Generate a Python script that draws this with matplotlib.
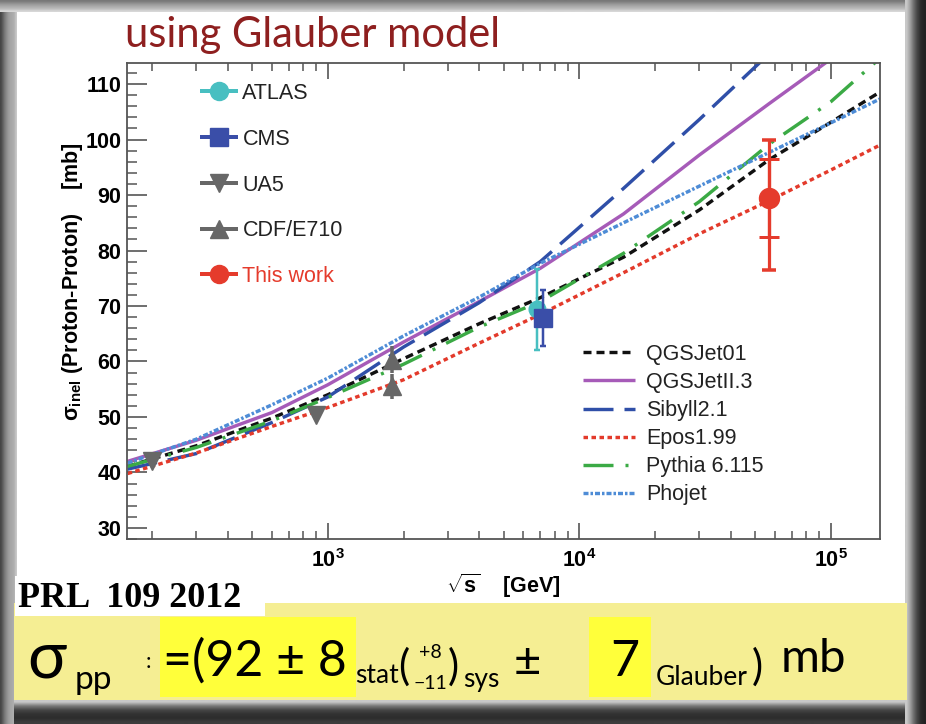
import numpy as np
import matplotlib
matplotlib.use("Agg")
import matplotlib.pyplot as plt
from matplotlib.lines import Line2D
from matplotlib.patches import Rectangle
from matplotlib.ticker import MultipleLocator, LogLocator, NullFormatter

# ---- model predictions: inelastic p-p cross section [mb] vs sqrt(s) [GeV]
energy_gev = [160, 300, 600, 1000, 2000, 4000, 7000, 15000, 30000, 57000, 100000, 160000]
qgsjet01 = [41.1, 44.8, 49.8, 54.0, 60.5, 66.8, 71.5, 78.8, 87.3, 96.4, 103.1, 108.8]
qgsjetII3 = [42.0, 45.8, 50.8, 55.8, 63.5, 70.8, 76.8, 86.6, 97.2, 106.5, 114.5, 121.0]
sibyll21 = [40.6, 43.4, 49.0, 53.6, 62.6, 70.6, 78.0, 91.2, 103.6, 115.5, 126.0, 135.0]
epos199 = [39.8, 43.5, 48.3, 51.7, 56.7, 63.3, 68.5, 76.0, 83.0, 89.0, 94.5, 99.2]
pythia6115 = [41.1, 44.5, 49.3, 53.5, 59.5, 66.2, 70.8, 79.5, 88.8, 99.2, 106.8, 115.0]
phojet = [41.7, 46.0, 52.2, 57.0, 64.6, 71.6, 77.7, 85.0, 91.6, 97.7, 103.0, 107.5]

model_names = ["QGSJet01", "QGSJetII.3", "Sibyll2.1", "Epos1.99", "Pythia 6.115", "Phojet"]

# ---- measurements
atlas_e, atlas_sigma, atlas_err = [6800], [69.4], [7.3]
cms_e, cms_sigma, cms_err = [7200], [67.8], [5.0]
ua5_e, ua5_sigma, ua5_err = [200, 900], [42.0, 50.3], [0.8, 1.0]
cdf_e, cdf_sigma, cdf_err = [1800, 1800], [60.3, 55.5], [2.4, 2.2]
auger_e, auger_sigma = [57000], [89.5]
auger_stat = [7.0]
auger_tot_up, auger_tot_down = [10.5], [13.0]

data_names = ["ATLAS", "CMS", "UA5", "CDF/E710", "This work"]

W, H = 926, 724
plt.rcParams["font.family"] = ["Liberation Sans", "DejaVu Sans"]
plt.rcParams["mathtext.fontset"] = "custom"
plt.rcParams["mathtext.rm"] = "Liberation Sans"
plt.rcParams["mathtext.it"] = "Liberation Sans:italic"
plt.rcParams["mathtext.bf"] = "Liberation Sans:bold"
plt.rcParams["lines.scale_dashes"] = False

fig = plt.figure(figsize=(W / 100, H / 100), dpi=100)
fig.patch.set_facecolor("white")

# ---- slide decoration (pixel coordinates, origin top-left)
bg = fig.add_axes([0, 0, 1, 1])
bg.set_xlim(0, W)
bg.set_ylim(H, 0)
bg.axis("off")
bg.set_zorder(0)


def band(values, x0, x1, y0, y1, horizontal=True):
    arr = np.array(values, dtype=float) / 255.0
    img = arr[None, :] if horizontal else arr[:, None]
    rgb = np.dstack([img, img, img])
    bg.imshow(rgb, extent=(x0, x1, y1, y0), aspect="auto", interpolation="bilinear", zorder=1)


band([70, 95, 120, 140, 155, 165, 170, 175, 200], 0, 17, 0, H)
band([120, 140, 160, 175, 190, 215], 0, W, 0, 12, horizontal=False)
band([200, 160, 110, 70, 45, 35], 905, W, 0, H)

# paper strip with the result
bg.add_patch(Rectangle((14, 603), 893, 97, facecolor="#F5EE93", edgecolor="none", zorder=2))
band([200, 120, 70, 50, 45, 60], 14, 905, 700, H, horizontal=False)
bg.add_patch(Rectangle((160, 617), 196, 80, facecolor="#FFFF3A", edgecolor="none", zorder=3))
bg.add_patch(Rectangle((589, 617), 62, 80, facecolor="#FFFF3A", edgecolor="none", zorder=3))
bg.add_patch(Rectangle((15, 576), 250, 40, facecolor="white", edgecolor="none", zorder=3))


def ftext(x, y, s, **kw):
    fig.text(x / W, 1 - y / H, s, **kw)


title_font = ["Lato", "DejaVu Sans"]
ftext(125, 47, "using Glauber model", fontsize=30, color="#8E1F1F",
      family=title_font, va="baseline")
ftext(18, 607, "PRL  109 2012", fontsize=26, fontweight="bold",
      family=["Liberation Serif"], va="baseline", color="black", zorder=5)

ff = ["Lato", "DejaVu Sans"]
ftext(27, 678, "σ", fontsize=47, family=ff, va="baseline", zorder=5)
ftext(75, 689, "pp", fontsize=24, family=ff, va="baseline", zorder=5)
ftext(146, 668, ":", fontsize=16, family=ff, va="baseline", zorder=5)
ftext(163, 676, "=(92 ± 8", fontsize=36, family=ff, va="baseline", zorder=5)
ftext(355, 683, "stat", fontsize=19, family=ff, va="baseline", zorder=5)
ftext(398, 680, "(", fontsize=30, family=ff, va="baseline", zorder=5)
ftext(430, 658, "+8", fontsize=14, family=ff, va="baseline", ha="center", zorder=5)
ftext(430, 689, "−11", fontsize=14, family=ff, va="baseline", ha="center", zorder=5)
ftext(448, 680, ")", fontsize=30, family=ff, va="baseline", zorder=5)
ftext(463, 687, "sys", fontsize=19, family=ff, va="baseline", zorder=5)
ftext(514, 676, "±", fontsize=34, family=ff, va="baseline", zorder=5)
ftext(610, 676, "7", fontsize=36, family=ff, va="baseline", zorder=5)
ftext(656, 685, "Glauber", fontsize=19, family=ff, va="baseline", zorder=5)
ftext(752, 680, ")", fontsize=30, family=ff, va="baseline", zorder=5)
ftext(781, 672, "mb", fontsize=34, family=ff, va="baseline", zorder=5)

# ---- main plot
ax = fig.add_axes([127 / W, 1 - 539 / H, (880 - 127) / W, (539 - 63) / H])
ax.set_zorder(2)
ax.set_facecolor("white")
ax.set_xscale("log")
ax.set_xlim(159, 1.57e5)
ax.set_ylim(28, 113.8)

px = 0.72  # points per pixel
model_styles = [
    dict(color="#111111", dashes=(8 * px, 5 * px)),
    dict(color="#A65BB8", linestyle="-"),
    dict(color="#2F4FA8", dashes=(30 * px, 11 * px)),
    dict(color="#E33A2B", dashes=(4.5 * px, 3.5 * px)),
    dict(color="#3BAA45", dashes=(30 * px, 12 * px, 3 * px, 12 * px)),
    dict(color="#4E8CD6", dashes=(5 * px, 2 * px, 2.5 * px, 2 * px)),
]
model_values = [qgsjet01, qgsjetII3, sibyll21, epos199, pythia6115, phojet]
model_handles = []
for name, vals, st in zip(model_names, model_values, model_styles):
    ln, = ax.plot(energy_gev, vals, lw=3.4 * px, label=name,
                  solid_capstyle="butt", dash_capstyle="butt", **st)
    model_handles.append(ln)

gray = "#676767"
ax.errorbar(ua5_e, ua5_sigma, yerr=ua5_err, fmt="v", color=gray, ms=13,
            elinewidth=3 * px, capsize=0, zorder=5)
ax.errorbar(cdf_e, cdf_sigma, yerr=cdf_err, fmt="^", color=gray, ms=13,
            elinewidth=3.5 * px, capsize=0, zorder=5)
ax.errorbar(atlas_e, atlas_sigma, yerr=atlas_err, fmt="o", color="#48BFC1", ms=12,
            elinewidth=2.5 * px, capsize=2.5, capthick=2.5 * px, zorder=5)
ax.errorbar(cms_e, cms_sigma, yerr=cms_err, fmt="s", color="#3A4EA8", ms=13,
            elinewidth=2.5 * px, capsize=2.5, capthick=2.5 * px, zorder=6)
red = "#E53B2C"
ax.errorbar(auger_e, auger_sigma, yerr=[auger_tot_down, auger_tot_up], fmt="none",
            ecolor=red, elinewidth=3.2 * px, capsize=7 * px, capthick=3.5 * px, zorder=6)
ax.errorbar(auger_e, auger_sigma, yerr=auger_stat, fmt="o", color=red, ms=20 * px,
            elinewidth=3.2 * px, capsize=10 * px, capthick=3 * px, zorder=7)

# axes styling
for sp in ax.spines.values():
    sp.set_color("#555555")
    sp.set_linewidth(1.3)
ax.yaxis.set_major_locator(MultipleLocator(10))
ax.yaxis.set_minor_locator(MultipleLocator(2))
ax.tick_params(axis="y", which="major", direction="in", length=20 * px, width=1.2,
               color="#555555", left=True, right=False, labelsize=15.5, pad=4)
ax.tick_params(axis="y", which="minor", direction="in", length=10 * px, width=1.1,
               color="#555555", left=True, right=False)
ax.set_yticks([30, 40, 50, 60, 70, 80, 90, 100, 110])
ax.set_yticklabels(["30", "40", "50", "60", "70", "80", "90", "100", "110"],
                   fontweight="bold")
ax.xaxis.set_minor_locator(LogLocator(base=10, subs=np.arange(2, 10)))
ax.xaxis.set_minor_formatter(NullFormatter())
ax.set_xticks([1e3, 1e4, 1e5])
ax.set_xticklabels([r"$\mathbf{10^{3}}$", r"$\mathbf{10^{4}}$", r"$\mathbf{10^{5}}$"])
ax.tick_params(axis="x", which="major", direction="in", length=16 * px, width=1.2,
               color="#555555", top=True, bottom=True, labelsize=15.5, pad=7)
ax.tick_params(axis="x", which="minor", direction="in", length=8 * px, width=1.1,
               color="#555555", top=True, bottom=True)

ax.text(-0.073, 0.54, r"$\mathregular{\sigma_{inel}}$ (Proton-Proton)    [mb]",
        transform=ax.transAxes, rotation=90, ha="center", va="center",
        fontsize=15.5, fontweight="bold")
ax.text(0.499, -0.098, r"$\sqrt{\mathbf{s}}$    [GeV]", transform=ax.transAxes,
        ha="center", va="center", fontsize=15.5, fontweight="bold")

# legends
data_handles = [
    Line2D([], [], color="#48BFC1", marker="o", ms=13, lw=4 * px),
    Line2D([], [], color="#3A4EA8", marker="s", ms=13, lw=4 * px),
    Line2D([], [], color=gray, marker="v", ms=13, lw=4 * px),
    Line2D([], [], color=gray, marker="^", ms=13, lw=4 * px),
    Line2D([], [], color=red, marker="o", ms=13, lw=4 * px),
]
leg1 = ax.legend(data_handles, data_names, loc="upper left",
                 bbox_to_anchor=(0.099, 0.958), frameon=False, fontsize=15.5,
                 handlelength=1.6, handletextpad=0.3, labelspacing=1.15,
                 borderpad=0, borderaxespad=0)
for t in leg1.get_texts():
    t.set_color("#222222")
leg1.get_texts()[-1].set_color(red)
ax.add_artist(leg1)

leg2 = ax.legend(model_handles, model_names, loc="upper left",
                 bbox_to_anchor=(0.605, 0.41), frameon=False, fontsize=15.5,
                 handlelength=2.45, handletextpad=0.5, labelspacing=0.33,
                 borderpad=0, borderaxespad=0)
for t in leg2.get_texts():
    t.set_color("#222222")

fig.savefig("out.png", dpi=100, facecolor=fig.get_facecolor())
